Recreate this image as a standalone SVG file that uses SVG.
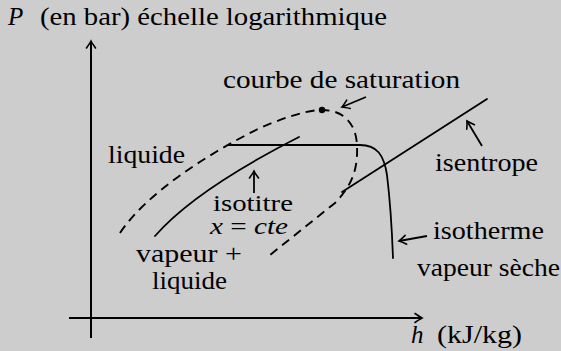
<svg xmlns="http://www.w3.org/2000/svg" width="561" height="351" viewBox="0 0 561 351">
<defs>
<style>
text{font-family:'Liberation Serif','DejaVu Serif',serif;font-size:25px;fill:#000}
.i{font-style:italic}
.s{font-size:23px}
.ln{fill:none;stroke:#000;stroke-width:1.8;stroke-linecap:round;stroke-linejoin:round}
.ax{fill:none;stroke:#000;stroke-width:2}
.ds{fill:none;stroke:#000;stroke-width:1.9;stroke-dasharray:9 6}
.ar{fill:none;stroke:#000;stroke-width:1.8;marker-end:url(#arr)}
</style>
<marker id="arr" markerUnits="userSpaceOnUse" markerWidth="16" markerHeight="16" viewBox="-10 -8 12 16" refX="0" refY="0" orient="auto">
<path d="M-7,-4.5 Q-2,-1 0,0 Q-2,1 -7,4.5" fill="none" stroke="#000" stroke-width="1.6" stroke-linecap="round"/>
</marker>
</defs>
<rect width="561" height="351" fill="#cdcdcd"/>
<g id="connectors">
<line class="ax" x1="91" y1="338" x2="91" y2="41" marker-end="url(#arr)"/>
<line class="ax" x1="69" y1="318" x2="422" y2="318" marker-end="url(#arr)"/>
<path id="saturation" class="ds" d="M120,233 C145,195 205,155 260,128 C290,115 310,110 322,110 C345,110 356,125 357,145 C358,170 352,185 335,203 L270,255"/>
<path id="isotitre-curve" class="ln" d="M155,236 Q195,190 299,137"/>
<path id="isotherme-curve" class="ln" d="M228,145 L360,145 C377,145 384,155 387,175 C390,200 392,230 393,258"/>
<line id="isentrope-line" class="ln" x1="342" y1="192" x2="487" y2="99"/>
<circle cx="322" cy="110" r="3.2" fill="#000"/>
<line class="ar" x1="366" y1="97" x2="342" y2="107"/>
<line class="ar" x1="254" y1="193" x2="254" y2="171"/>
<line class="ar" x1="482" y1="146" x2="467" y2="121"/>
<line class="ar" x1="427" y1="236" x2="399" y2="241"/>
</g>
<g id="axis-p"><text class="i" x="8" y="25">P</text><text x="40" y="25" textLength="347" lengthAdjust="spacingAndGlyphs">(en bar) échelle logarithmique</text></g>
<g id="axis-h"><text class="i" x="411" y="343">h</text><text x="437" y="343" textLength="85" lengthAdjust="spacingAndGlyphs">(kJ/kg)</text></g>
<g id="courbe"><text x="223" y="88" textLength="237" lengthAdjust="spacingAndGlyphs">courbe de saturation</text></g>
<g id="liquide"><text x="108" y="163" textLength="77" lengthAdjust="spacingAndGlyphs">liquide</text></g>
<g id="isotitre"><text class="s" x="213" y="211" textLength="80" lengthAdjust="spacingAndGlyphs">isotitre</text><text class="s" x="210" y="234" textLength="78" lengthAdjust="spacingAndGlyphs"><tspan class="i">x</tspan> = <tspan class="i">cte</tspan></text></g>
<g id="melange"><text x="136" y="262" textLength="106" lengthAdjust="spacingAndGlyphs">vapeur +</text><text x="152" y="289" textLength="75" lengthAdjust="spacingAndGlyphs">liquide</text></g>
<g id="isentrope"><text x="435" y="171" textLength="103" lengthAdjust="spacingAndGlyphs">isentrope</text></g>
<g id="isotherme"><text x="433" y="239" textLength="111" lengthAdjust="spacingAndGlyphs">isotherme</text></g>
<g id="vapeur"><text x="417" y="276" textLength="143" lengthAdjust="spacingAndGlyphs">vapeur sèche</text></g>
</svg>
